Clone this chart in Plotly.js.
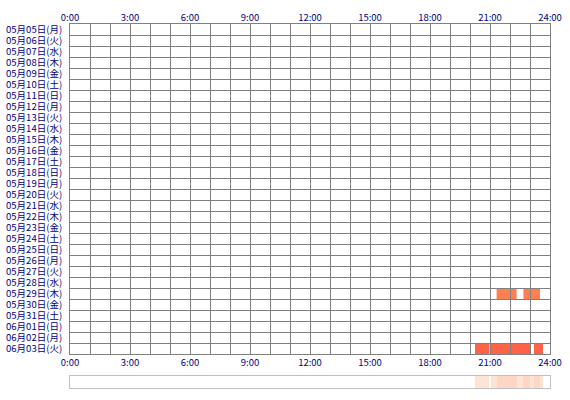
<!DOCTYPE html>
<html>
<head>
<meta charset="utf-8">
<script src="https://cdn.plot.ly/plotly-3.0.1.min.js"></script>
<style>
  html, body { margin: 0; padding: 0; background: #fff; }
  #chart { width: 570px; height: 400px; }
</style>
</head>
<body>
<div id="chart"></div>
<script>
// row labels, top to bottom
var dayLabels = [
  '05月05日(月)', '05月06日(火)', '05月07日(水)', '05月08日(木)', '05月09日(金)',
  '05月10日(土)', '05月11日(日)', '05月12日(月)', '05月13日(火)', '05月14日(水)',
  '05月15日(木)', '05月16日(金)', '05月17日(土)', '05月18日(日)', '05月19日(月)',
  '05月20日(火)', '05月21日(水)', '05月22日(木)', '05月23日(金)', '05月24日(土)',
  '05月25日(日)', '05月26日(月)', '05月27日(火)', '05月28日(水)', '05月29日(木)',
  '05月30日(金)', '05月31日(土)', '06月01日(日)', '06月02日(月)', '06月03日(火)'
];

// sessions (hours of day)
var sessionDay   = ['05月29日(木)', '05月29日(木)', '06月03日(火)', '06月03日(火)', '06月03日(火)'];
var sessionStart = [21.33, 22.67, 20.25, 21.03, 23.2];
var sessionEnd   = [22.33, 23.5, 20.97, 23.0, 23.65];

var hourTicks = [0, 3, 6, 9, 12, 15, 18, 21, 24];
var hourLabels = ['0:00', '3:00', '6:00', '9:00', '12:00', '15:00', '18:00', '21:00', '24:00'];

// styles
var gridColor = '#808080';
var labelColor = '#000080';
var dayColors = {'05月29日(木)': '#ff7f50', '06月03日(火)': '#ff6347'};
var font = {family: 'Noto Sans CJK JP, sans-serif', size: 9.5, color: labelColor};

var shapes = sessionDay.map(function (d, i) {
    var row = dayLabels.indexOf(d);
    return {
        type: 'rect', xref: 'x', yref: 'y', layer: 'below',
        x0: sessionStart[i], x1: sessionEnd[i], y0: row, y1: row + 1,
        fillcolor: dayColors[d], line: {width: 0}
    };
});

// summary strip: how many sessions cover each stretch of the day
var edges = [0, 24].concat(sessionStart, sessionEnd)
    .sort(function (a, b) { return a - b; })
    .filter(function (v, i, a) { return i === 0 || v !== a[i - 1]; });
var counts = [];
for (var k = 0; k < edges.length - 1; k++) {
    var mid = (edges[k] + edges[k + 1]) / 2;
    var n = 0;
    for (var s = 0; s < sessionStart.length; s++) {
        if (sessionStart[s] <= mid && mid < sessionEnd[s]) n++;
    }
    counts.push(n);
}

var strip = {
    type: 'heatmap', x: edges, y: [0, 1], z: [counts],
    xaxis: 'x3', yaxis: 'y3', zmin: 0, zmax: 2, showscale: false, hoverinfo: 'skip',
    colorscale: [[0, '#ffffff'], [0.5, '#ffe3d5'], [1, '#ffd5c4']]
};

var anchorTrace = {
    type: 'scatter', mode: 'none', x: [0, 24], y: [0, 30],
    xaxis: 'x2', yaxis: 'y', hoverinfo: 'skip', showlegend: false
};

var layout = {
    width: 570, height: 400,
    margin: {l: 70, r: 20, t: 24, b: 12},
    paper_bgcolor: '#ffffff',
    plot_bgcolor: '#ffffff',
    showlegend: false,
    font: font,
    shapes: shapes,
    xaxis: {
        range: [0, 24], domain: [0, 1], anchor: 'y',
        tickmode: 'array', tickvals: hourTicks, ticktext: hourLabels,
        showgrid: true, gridcolor: gridColor, gridwidth: 1,
        minor: {tickmode: 'linear', tick0: 0, dtick: 1, showgrid: true, gridcolor: gridColor, gridwidth: 1, ticks: ''},
        zeroline: false, ticks: '', tickfont: font,
        showline: true, linecolor: gridColor, linewidth: 1, mirror: true,
        fixedrange: true
    },
    xaxis2: {
        range: [0, 24], overlaying: 'x', side: 'top', anchor: 'y',
        tickmode: 'array', tickvals: hourTicks, ticktext: hourLabels,
        showgrid: false, zeroline: false, ticks: '', tickfont: font,
        fixedrange: true
    },
    yaxis: {
        range: [30, 0], domain: [0.0934, 1], anchor: 'x',
        tickmode: 'array',
        tickvals: dayLabels.map(function (d, i) { return i + 0.5; }),
        ticktext: dayLabels,
        showgrid: false,
        minor: {tickmode: 'linear', tick0: 0, dtick: 1, showgrid: true, gridcolor: gridColor, gridwidth: 1, ticks: ''},
        zeroline: false, ticks: '', tickfont: font, ticklabelstandoff: 5,
        showline: true, linecolor: gridColor, linewidth: 1, mirror: true,
        fixedrange: true
    },
    xaxis3: {
        range: [0, 24], anchor: 'y3', domain: [0, 1],
        showgrid: false, zeroline: false, showticklabels: false, ticks: '',
        showline: true, linecolor: '#c0c0c0', linewidth: 1, mirror: true,
        fixedrange: true
    },
    yaxis3: {
        range: [0, 1], domain: [0, 0.033], anchor: 'x3',
        showgrid: false, zeroline: false, showticklabels: false, ticks: '',
        showline: true, linecolor: '#c0c0c0', linewidth: 1, mirror: true,
        fixedrange: true
    }
};

Plotly.newPlot(document.getElementById('chart'), [strip, anchorTrace], layout, {staticPlot: true});
</script>
</body>
</html>
